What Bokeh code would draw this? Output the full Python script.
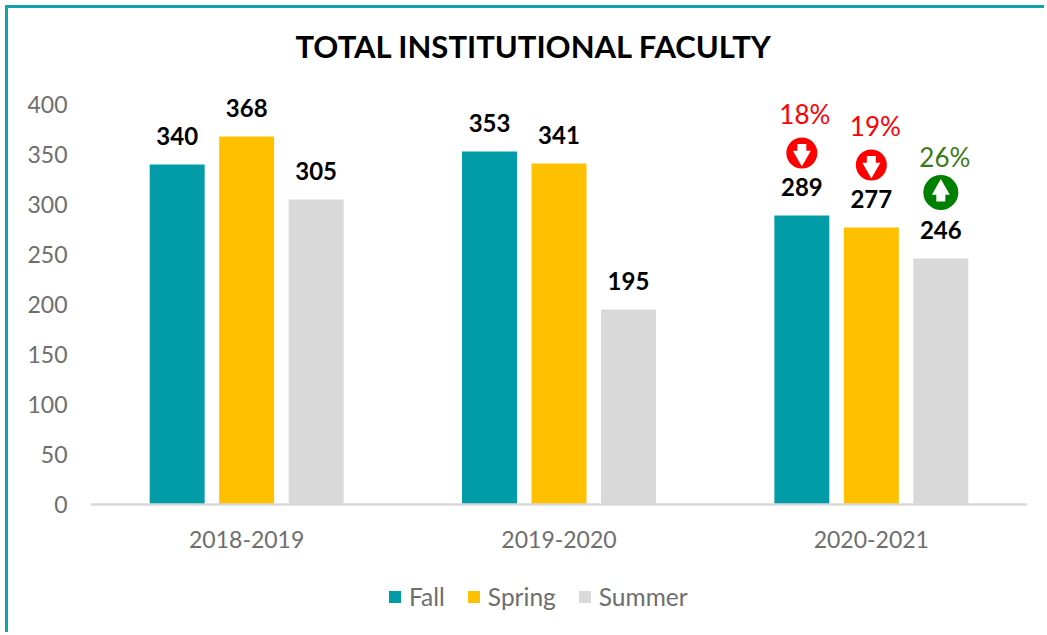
from bokeh.plotting import figure
from bokeh.models import ColumnDataSource, FixedTicker, Legend, LegendItem, Range1d, FactorRange
from bokeh.core.properties import value
from bokeh.transform import dodge
from bokeh.embed import file_html
from bokeh.resources import INLINE

years = ["2018-2019", "2019-2020", "2020-2021"]
fall = [340, 353, 289]
spring = [368, 341, 277]
summer = [305, 195, 246]
y_ticks = [0, 50, 100, 150, 200, 250, 300, 350, 400]
change_labels = ["18%", "19%", "26%"]
TITLE = "TOTAL INSTITUTIONAL FACULTY"

TEAL, GOLD, GREY = "#019CA8", "#FFC000", "#D9D9D9"
AXIS_TEXT = "#6E6E6E"
RED, GREEN, GREEN_TEXT = "#FF0000", "#008000", "#3A7A12"
FONT = value("Lato")

p = figure(width=1039, height=627, output_backend="svg", toolbar_location=None,
           x_range=FactorRange(factors=years, range_padding=0), y_range=Range1d(-120, 440),
           min_border_left=82, min_border_right=20, min_border_top=56, min_border_bottom=11,
           background_fill_color="white", border_fill_color="white")
p.styles = {"position": "absolute", "left": "5px", "top": "5px",
            "border-left": "3px solid #14A3AB", "border-top": "3px solid #14A3AB"}

p.title.text = TITLE
p.title.text_font = "Lato"
p.title.text_font_size = "31px"
p.title.text_font_style = "bold"
p.title.text_color = "black"
p.title.align = "left"
p.title.offset = 205
p.title.standoff = 0

p.grid.visible = False
p.outline_line_color = None
p.yaxis.ticker = FixedTicker(ticks=y_ticks)
p.yaxis.axis_line_color = None
p.yaxis.major_tick_line_color = None
p.yaxis.minor_tick_line_color = None
p.yaxis.major_label_standoff = 17
p.yaxis.major_label_text_font = "Lato"
p.yaxis.major_label_text_font_size = "23px"
p.yaxis.major_label_text_color = AXIS_TEXT
p.xaxis.fixed_location = 0
p.xaxis.axis_line_color = GREY
p.xaxis.axis_line_width = 2.5
p.xaxis.major_tick_line_color = None
p.xaxis.minor_tick_line_color = None
p.xaxis.major_label_standoff = 20
p.xaxis.major_label_text_font = "Lato"
p.xaxis.major_label_text_font_size = "23px"
p.xaxis.major_label_text_color = AXIS_TEXT

BAR_WIDTH = 0.176
STEP = 0.2225
items = []
for name, vals, col, off in [("Fall", fall, TEAL, -STEP), ("Spring", spring, GOLD, 0), ("Summer", summer, GREY, STEP)]:
    src = ColumnDataSource(dict(year=years, v=vals, label=[str(x) for x in vals]))
    x = dodge("year", off, range=p.x_range)
    r = p.vbar(x=x, top="v", width=BAR_WIDTH, source=src, fill_color=col, line_color=None)
    p.text(x=x, y="v", text="label", source=src, y_offset=-28.5, text_align="center",
           text_baseline="middle", text_font=FONT, text_font_size="24px",
           text_font_style="bold", text_color="black")
    items.append(LegendItem(label=name, renderers=[r]))

# change markers on the 2020-2021 group
last = years[-1]
for val, lab, off, down, dx, dia in [
    (fall[-1], change_labels[0], -STEP, True, 3, 31),
    (spring[-1], change_labels[1], 0, True, 4, 31),
    (summer[-1], change_labels[2], STEP, False, 4, 35),
]:
    col = RED if down else GREEN
    cy = val + (62.5 if down else 66)
    s = ColumnDataSource(dict(year=[last], c=[cy], t=[val + 101.5], lab=[lab]))
    x = dodge("year", off, range=p.x_range)
    p.scatter(x=x, y="c", source=s, marker="circle", size=dia, fill_color=col, line_color=None)
    p.rect(x=x, y="c", width=9, height=10, width_units="screen", height_units="screen",
           source=ColumnDataSource(dict(year=[last], c=[cy + (4 if down else -4)])),
           fill_color="white", line_color=None)
    tri = ColumnDataSource(dict(year=[last], c=[cy + (-3 if down else 3)]))
    p.scatter(x=x, y="c", source=tri, marker="inverted_triangle" if down else "triangle", size=18,
              fill_color="white", line_color=None)
    p.text(x=x, y="t", text="lab", source=s, x_offset=dx, text_align="center", text_baseline="middle",
           text_font=FONT, text_font_size="26px",
           text_color=RED if down else GREEN_TEXT)

legend = Legend(items=items, orientation="horizontal", location=(297, 13),
                border_line_color=None, background_fill_alpha=0,
                glyph_width=15, glyph_height=15, label_standoff=7, spacing=21,
                padding=0, margin=0, label_text_font="Lato", label_text_font_size="24.5px",
                label_text_color=AXIS_TEXT)
p.add_layout(legend, "center")

open("out.html", "w").write(file_html(p, INLINE))
